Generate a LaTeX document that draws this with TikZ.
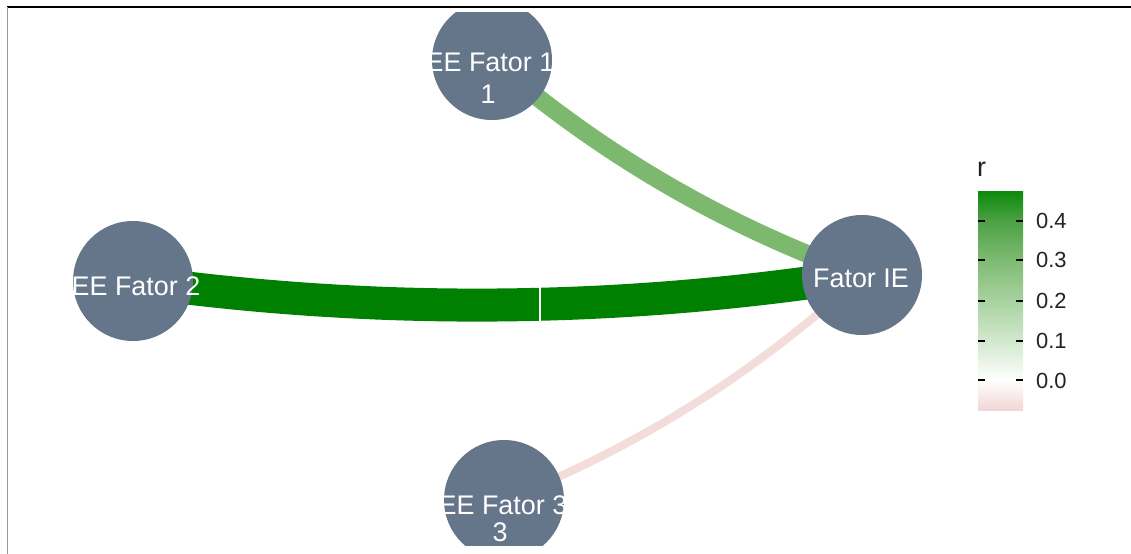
\documentclass[tikz,border=0pt]{standalone}
\usepackage{fontspec}
\setmainfont{Liberation Sans}
\usetikzlibrary{calc}
\definecolor{nodefill}{HTML}{65758A}
\definecolor{strongpos}{HTML}{008000}
\definecolor{midpos}{HTML}{7CB96F}
\definecolor{weakneg}{HTML}{F4DCDA}
\definecolor{legtext}{HTML}{222222}
\definecolor{cbneg}{HTML}{F2D6D6}
\definecolor{cba}{HTML}{D2E8CE}
\definecolor{cbb}{HTML}{A8D2A0}
\definecolor{cbc}{HTML}{7EBB73}
\definecolor{cbd}{HTML}{4CA144}
\definecolor{cbtop}{HTML}{0E8A0E}
\pgfdeclareverticalshading{rbar}{100bp}{color(0bp)=(cbneg); color(25bp)=(cbneg); color(31.88bp)=(white); color(40.83bp)=(cba); color(50bp)=(cbb); color(59.4bp)=(cbc); color(68.35bp)=(cbd); color(75bp)=(cbtop); color(100bp)=(cbtop)}
\tikzset{
  vnode/.style={circle, fill=nodefill, draw=none, minimum size=120bp, inner sep=0pt},
  vlab/.style={text=white, font=\fontsize{27}{31}\selectfont, anchor=base, inner sep=0pt},
  edgeline/.style={line cap=butt},
  ticklab/.style={text=legtext, font=\fontsize{22}{26}\selectfont, anchor=base west, inner sep=0pt},
  tickmark/.style={draw=black, line width=1.4bp}
}
\begin{document}
\begin{tikzpicture}[x=1bp,y=-1bp]
\useasboundingbox (0,0) rectangle (1131,554);
\fill[white] (0,0) rectangle (1131,554);
% frame lines
\draw[black, line width=2.2bp] (7,6.8) -- (1131,6.8);
\draw[black!40, line width=1bp] (7.2,7) -- (7.2,554);
\begin{scope}
\clip (8,13) rectangle (1131,545);
% node positions
\coordinate (pf1) at (492,60);
\coordinate (pf2) at (133,281);
\coordinate (pie) at (862,275);
\coordinate (pf3) at (504,500);
\coordinate (q1) at (657,202);
\coordinate (q2) at (497,332);
\coordinate (q3) at (704,421);
% edges
\draw[edgeline, weakneg, line width=8bp] (pie) .. controls ($(pie)!2/3!(q3)$) and ($(pf3)!2/3!(q3)$) .. (pf3);
\draw[edgeline, midpos, line width=18bp] (pie) .. controls ($(pie)!2/3!(q1)$) and ($(pf1)!2/3!(q1)$) .. (pf1);
\draw[edgeline, strongpos, line width=33bp] (pie) .. controls ($(pie)!2/3!(q2)$) and ($(pf2)!2/3!(q2)$) .. (pf2);
\draw[white, line width=2bp] (540,286) -- (540,323);
% nodes
\node[vnode] (f1) at (pf1) {};
\node[vnode] (f2) at (pf2) {};
\node[vnode] (ie) at (pie) {};
\node[vnode] (f3) at (pf3) {};
\node[vlab] (f1a) at (490,72) {EE Fator 1};
\node[vlab] (f1b) at (488,104) {1};
\node[vlab] (f2a) at (136,296) {EE Fator 2};
\node[vlab] (iea) at (861,288) {Fator IE};
\node[vlab] (f3a) at (503,514) {EE Fator 3};
\node[vlab] (f3b) at (500,541) {3};
\end{scope}
% legend
\node[text=legtext, font=\fontsize{27}{31}\selectfont, anchor=base west, inner sep=0pt] (ltitle) at (977,177) {r};
\shade[shading=rbar] (978,192) rectangle (1023,410);
\foreach \yy/\lab [count=\i] in {221/0.4, 260/0.3, 301/0.2, 341/0.1, 380/0.0} {
  \draw[tickmark] (978,\yy) -- (985,\yy);
  \draw[tickmark] (1016,\yy) -- (1023,\yy);
  \node[ticklab] (tl\i) at (1036,\yy+8) {\lab};
}
\end{tikzpicture}
\end{document}
